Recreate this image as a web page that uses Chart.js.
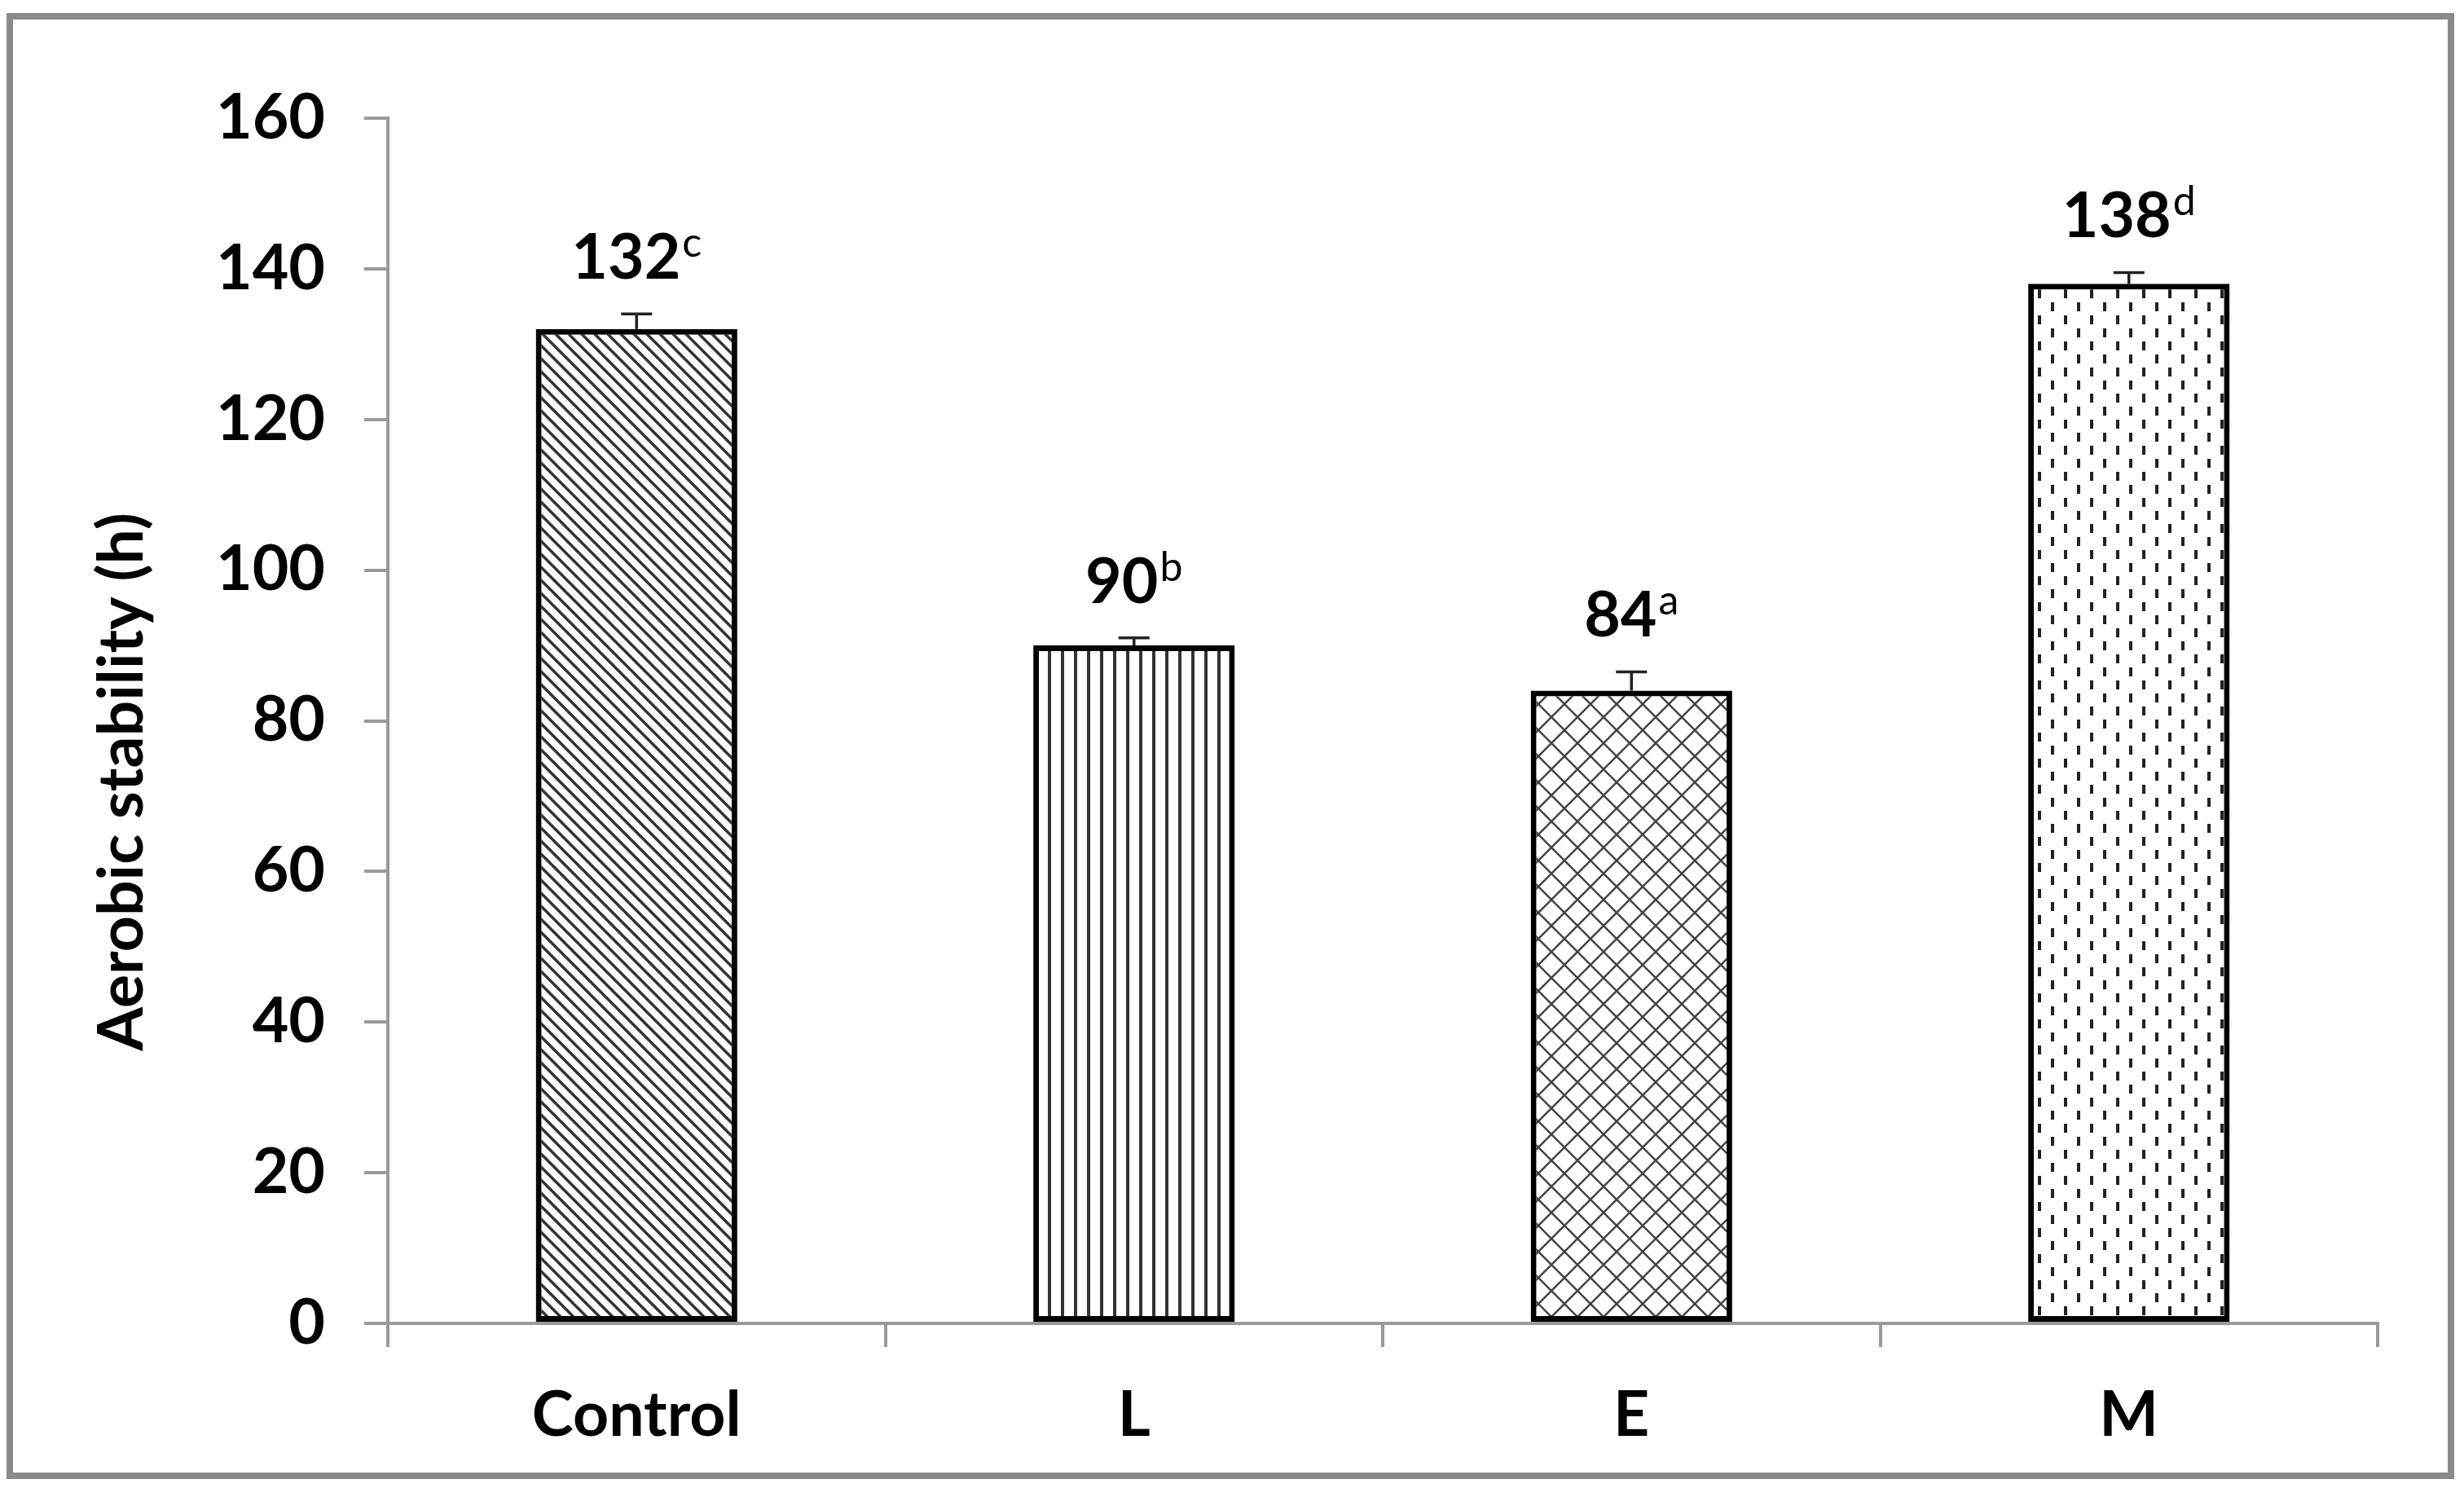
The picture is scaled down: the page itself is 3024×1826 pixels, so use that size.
<!DOCTYPE html>
<html>
<head>
<meta charset="utf-8">
<script src="https://cdn.jsdelivr.net/npm/chart.js@4.4.1/dist/chart.umd.min.js"></script>
<style>
  html, body { margin: 0; padding: 0; background: #fff; }
  #wrap { width: 3024px; height: 1826px; position: relative; }
</style>
</head>
<body>
<div id="wrap"><canvas id="c"></canvas></div>
<script>
// chart data
const categories = ['Control', 'L', 'E', 'M'];
const stability = [132, 90, 84, 138];
const stabilityErr = [2, 1, 2.5, 1.5];
const letters = ['c', 'b', 'a', 'd'];
const yMin = 0, yMax = 160, yStep = 20;

const canvas = document.getElementById('c');
const ctx0 = canvas.getContext('2d');

// hatch tiles like the excel pattern fills
function makeTile(size, drawFn) {
    const t = document.createElement('canvas');
    t.width = size; t.height = size;
    const g = t.getContext('2d');
    g.fillStyle = '#fff';
    g.fillRect(0, 0, size, size);
    drawFn(g, size);
    return ctx0.createPattern(t, 'repeat');
}

const diagPattern = makeTile(16, (g, s) => {
    g.strokeStyle = '#333';
    g.lineWidth = 3.5;
    g.beginPath();
    g.moveTo(-4, -4); g.lineTo(s + 4, s + 4);
    g.moveTo(-4, s - 4); g.lineTo(4, s + 4);
    g.moveTo(s - 4, -4); g.lineTo(s + 4, 4);
    g.stroke();
});

const vertPattern = makeTile(16, (g, s) => {
    g.fillStyle = '#333';
    g.fillRect(6, 0, 4, s);
});

const crossPattern = makeTile(32, (g, s) => {
    g.strokeStyle = '#444';
    g.lineWidth = 2.5;
    g.beginPath();
    g.moveTo(-4, -4); g.lineTo(s + 4, s + 4);
    g.moveTo(-4, s + 4); g.lineTo(s + 4, -4);
    g.stroke();
});

const dashPattern = makeTile(32, (g, s) => {
    g.fillStyle = '#222';
    g.fillRect(5, 3, 4, 11);
    g.fillRect(21, 19, 4, 11);
});

const framePlugin = {
    id: 'frame',
    beforeDraw(chart) {
        const c = chart.ctx;
        c.save();
        c.fillStyle = '#fff';
        c.fillRect(0, 0, chart.width, chart.height);
        c.strokeStyle = '#8a8a8a';
        c.lineWidth = 8;
        c.strokeRect(12, 20, 2996, 1791);
        c.restore();
    }
};

// plus-only error bars and letter labels above them
const errLabelPlugin = {
    id: 'errLabels',
    afterDatasetsDraw(chart) {
        const c = chart.ctx;
        const ys = chart.scales.y;
        const meta = chart.getDatasetMeta(0);
        c.save();
        meta.data.forEach((bar, i) => {
            const top = ys.getPixelForValue(stability[i] + stabilityErr[i]);
            const base = ys.getPixelForValue(stability[i]);
            c.strokeStyle = '#222';
            c.lineWidth = 3.5;
            c.beginPath();
            c.moveTo(bar.x, base);
            c.lineTo(bar.x, top);
            c.moveTo(bar.x - 19, top);
            c.lineTo(bar.x + 19, top);
            c.stroke();

            const main = String(stability[i]);
            const sup = letters[i];
            c.font = 'bold 77px Lato';
            const wMain = c.measureText(main).width;
            c.font = '50px Lato';
            const wSup = c.measureText(sup).width;
            const x0 = bar.x - (wMain + wSup + 2) / 2;
            const yb = top - 43;
            c.fillStyle = '#000';
            c.textBaseline = 'alphabetic';
            c.textAlign = 'left';
            c.font = 'bold 77px Lato';
            c.fillText(main, x0, yb);
            c.font = '50px Lato';
            c.fillText(sup, x0 + wMain + 2, yb - 27);
        });
        c.restore();
    }
};

new Chart(canvas, {
    type: 'bar',
    data: {
        labels: categories,
        datasets: [{
            data: stability,
            backgroundColor: [diagPattern, vertPattern, crossPattern, dashPattern],
            borderColor: '#000',
            borderWidth: 7,
            borderSkipped: false,
            categoryPercentage: 1,
            barPercentage: 0.405
        }]
    },
    options: {
        responsive: true,
        maintainAspectRatio: false,
        animation: false,
        devicePixelRatio: 1,
        layout: { padding: { left: 0, top: 145, right: 106, bottom: 0 } },
        plugins: {
            legend: { display: false },
            tooltip: { enabled: false }
        },
        scales: {
            x: {
                afterFit: (s) => { s.height = 202; },
                grid: {
                    offset: true,
                    drawOnChartArea: false,
                    drawTicks: true,
                    tickLength: 29,
                    color: '#9a9a9a',
                    lineWidth: 4
                },
                border: { display: true, color: '#9a9a9a', width: 4 },
                ticks: {
                    color: '#000',
                    padding: 38,
                    font: { family: 'Lato', size: 77, weight: 'bold' }
                }
            },
            y: {
                min: yMin,
                max: yMax,
                afterFit: (s) => { s.width = 476; },
                grid: {
                    drawOnChartArea: false,
                    drawTicks: true,
                    tickLength: 29,
                    color: '#9a9a9a',
                    lineWidth: 4
                },
                border: { display: true, color: '#9a9a9a', width: 4 },
                ticks: {
                    stepSize: yStep,
                    color: '#000',
                    padding: 48,
                    font: { family: 'Lato', size: 77, weight: 'bold' }
                },
                title: {
                    display: true,
                    text: 'Aerobic stability (h)\u00A0\u00A0\u00A0\u00A0\u00A0\u00A0\u00A0\u00A0',
                    color: '#000',
                    padding: { top: 104, bottom: 0 },
                    font: { family: 'Lato', size: 77, weight: 'bold' }
                }
            }
        }
    },
    plugins: [framePlugin, errLabelPlugin]
});
</script>
</body>
</html>
